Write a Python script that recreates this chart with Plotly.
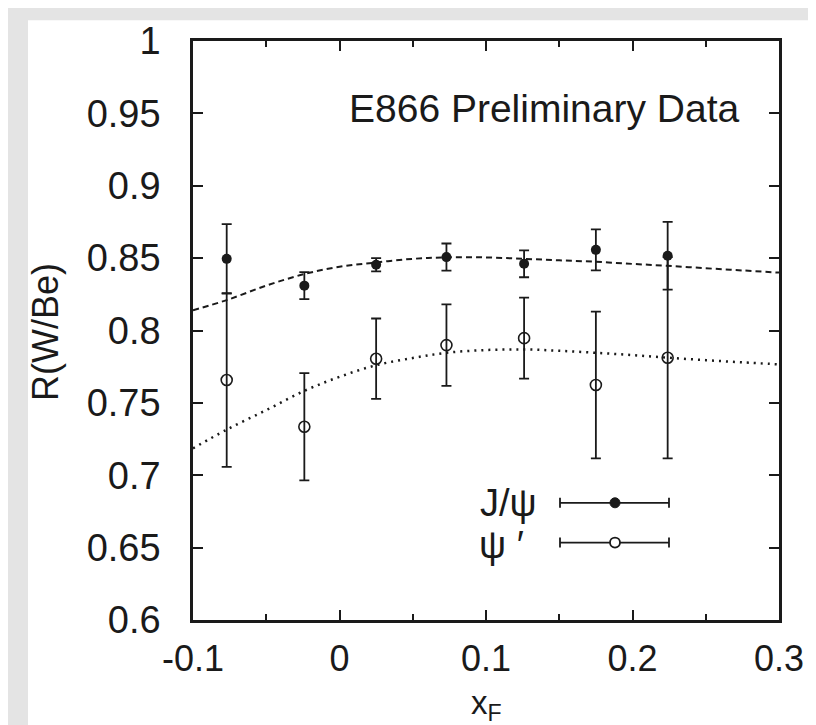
import plotly.graph_objects as go

# ---- data ----
xf_points = [-0.077, -0.024, 0.025, 0.073, 0.126, 0.175, 0.224]
jpsi_r = [0.8495, 0.831, 0.8454, 0.8507, 0.8461, 0.8557, 0.8516]
jpsi_err = [0.024, 0.0093, 0.0046, 0.0094, 0.0093, 0.0142, 0.0234]
psip_r = [0.7658, 0.7335, 0.7805, 0.7899, 0.7947, 0.7624, 0.7812]
psip_err = [0.060, 0.037, 0.0278, 0.0282, 0.028, 0.0507, 0.0695]

curve_x = [-0.1, -0.077, -0.05, -0.024, 0.0, 0.025, 0.05, 0.073, 0.1,
           0.126, 0.15, 0.175, 0.2, 0.224, 0.25, 0.275, 0.3]
jpsi_curve = [0.814, 0.821, 0.831, 0.839, 0.844, 0.847, 0.8495, 0.8505, 0.8505,
              0.8495, 0.8485, 0.8475, 0.846, 0.8447, 0.843, 0.8415, 0.840]
psip_curve = [0.7186, 0.7315, 0.745, 0.7583, 0.768, 0.776, 0.781, 0.7846, 0.7865,
              0.7869, 0.786, 0.7846, 0.783, 0.7812, 0.7795, 0.778, 0.7766]

x_ticks = [-0.1, 0, 0.1, 0.2, 0.3]
x_ticklabels = ["-0.1", "0", "0.1", "0.2", "0.3"]
y_ticks = [0.6, 0.65, 0.7, 0.75, 0.8, 0.85, 0.9, 0.95, 1.0]
y_ticklabels = ["0.6", "0.65", "0.7", "0.75", "0.8", "0.85", "0.9", "0.95", "1"]

INK = "#1a1a1a"
FONT = "Liberation Sans, Arial, sans-serif"

fig = go.Figure()

fig.add_trace(go.Scatter(x=curve_x, y=jpsi_curve, mode="lines", line_shape="spline",
                         line=dict(color=INK, width=2, dash="6px,4px"), showlegend=False,
                         hoverinfo="skip"))
fig.add_trace(go.Scatter(x=curve_x, y=psip_curve, mode="lines", line_shape="spline",
                         line=dict(color=INK, width=2.5, dash="2px,5px"), showlegend=False,
                         hoverinfo="skip"))

fig.add_trace(go.Scatter(x=xf_points, y=psip_r, mode="markers", name="ψ′",
                         marker=dict(symbol="circle-open", size=11, color=INK,
                                     line=dict(width=1.6, color=INK)),
                         error_y=dict(type="data", array=psip_err, color=INK,
                                      thickness=1.8, width=5),
                         showlegend=False))
fig.add_trace(go.Scatter(x=xf_points, y=jpsi_r, mode="markers", name="J/ψ",
                         marker=dict(symbol="circle", size=10, color=INK),
                         error_y=dict(type="data", array=jpsi_err, color=INK,
                                      thickness=1.8, width=5),
                         showlegend=False))

L, R, T, B = 185, 45, 29, 113
W, H = 816, 725
pw, ph = W - L - R, H - T - B


def px(xp):
    return (xp - L) / pw


def py(yp):
    return (H - B - yp) / ph


shapes = []
# page background: grey frame with white sheet
shapes.append(dict(type="rect", xref="paper", yref="paper", layer="below",
                   x0=px(20), x1=px(804), y0=py(730), y1=py(8),
                   fillcolor="white", line=dict(width=0)))

# custom legend: horizontal error-bar samples
for yy in (494, 534):
    shapes.append(dict(type="line", xref="paper", yref="paper", x0=px(552), x1=px(661),
                       y0=py(yy), y1=py(yy), line=dict(color=INK, width=1.8)))
    for xx in (552, 661):
        shapes.append(dict(type="line", xref="paper", yref="paper", x0=px(xx), x1=px(xx),
                           y0=py(yy - 5), y1=py(yy + 5), line=dict(color=INK, width=1.8)))
shapes.append(dict(type="circle", xref="paper", yref="paper", xsizemode="pixel",
                   ysizemode="pixel", xanchor=px(607), yanchor=py(494),
                   x0=-5, x1=5, y0=-5, y1=5, fillcolor=INK, line=dict(color=INK, width=1)))
shapes.append(dict(type="circle", xref="paper", yref="paper", xsizemode="pixel",
                   ysizemode="pixel", xanchor=px(607), yanchor=py(534),
                   x0=-5, x1=5, y0=-5, y1=5, fillcolor="white",
                   line=dict(color=INK, width=1.8)))

annotations = [
    dict(text="E866 Preliminary Data", xref="paper", yref="paper", x=px(733), y=py(97),
         xanchor="right", yanchor="middle", showarrow=False,
         font=dict(family=FONT, size=39, color=INK)),
    dict(text="J/ψ", xref="paper", yref="paper", x=px(531), y=py(494),
         xanchor="right", yanchor="middle", showarrow=False,
         font=dict(family=FONT, size=38, color=INK)),
    dict(text="ψ ′", xref="paper", yref="paper", x=px(518), y=py(536),
         xanchor="right", yanchor="middle", showarrow=False,
         font=dict(family=FONT, size=38, color=INK)),
    dict(text="x<sub>F</sub>", xref="paper", yref="paper", x=px(478), y=py(721),
         xanchor="center", yanchor="bottom", showarrow=False,
         font=dict(family=FONT, size=33, color=INK)),
    dict(text="R(W/Be)", xref="paper", yref="paper", x=px(38), y=py(322),
         xanchor="center", yanchor="middle", showarrow=False, textangle=-90,
         font=dict(family=FONT, size=36, color=INK)),
]

fig.update_layout(
    width=W, height=H,
    margin=dict(l=L, r=R, t=T, b=B),
    paper_bgcolor="#e4e4e4",
    plot_bgcolor="white",
    shapes=shapes,
    annotations=annotations,
    font=dict(family=FONT, color=INK),
    showlegend=False,
)
fig.update_xaxes(range=[-0.1, 0.3], tickvals=x_ticks, ticktext=x_ticklabels,
                 ticks="inside", ticklen=10, tickwidth=2, tickcolor=INK,
                 minor=dict(ticks="inside", ticklen=6, tickwidth=2, dtick=0.05,
                            tick0=-0.05, tickcolor=INK, showgrid=False),
                 showline=True, linewidth=2.5, linecolor=INK, mirror="ticks",
                 showgrid=False, zeroline=False, ticklabelstandoff=5,
                 tickfont=dict(family=FONT, size=36, color=INK))
fig.update_yaxes(range=[0.6, 1.0], tickvals=y_ticks, ticktext=y_ticklabels,
                 ticks="inside", ticklen=10, tickwidth=2, tickcolor=INK,
                 showline=True, linewidth=2.5, linecolor=INK, mirror="ticks",
                 showgrid=False, zeroline=False, ticklabelstandoff=22,
                 tickfont=dict(family=FONT, size=38, color=INK))

fig.write_html("out.html")
